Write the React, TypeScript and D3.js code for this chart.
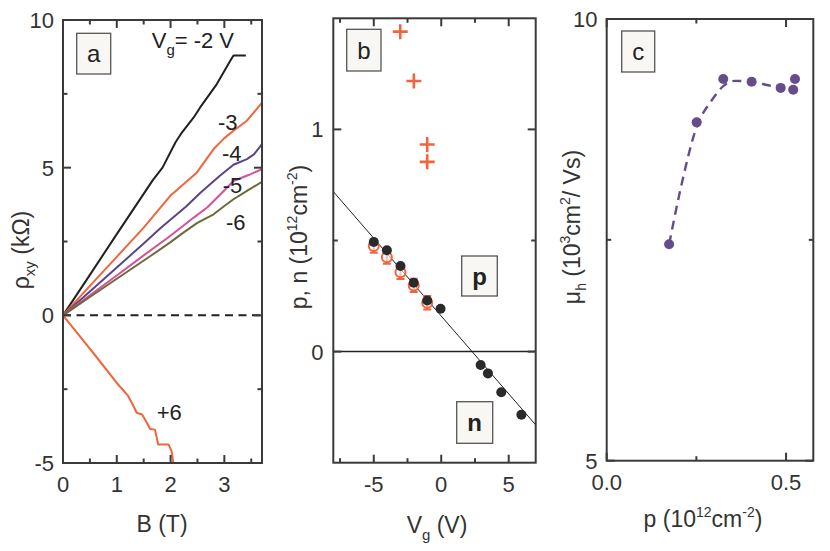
import React from 'react';
import * as d3 from 'd3';

const FONT = '"Liberation Sans", Arial, Helvetica, sans-serif';
const TXT = '#333';
const AX = '#3a3a3a';

// ---------- Panel a : rho_xy vs B ----------
const curveVgM2: [number, number][] = [[0,0],[0.5,1.37],[1.0,2.75],[1.67,4.58],[1.85,5.0],[2.09,5.85],[2.21,6.19],[2.43,6.7],[2.55,7.04],[2.86,7.83],[3.11,8.62],[3.17,8.8],[3.4,8.8]];
const curveVgM3: [number, number][] = [[0,0],[0.5,1.0],[1.0,1.98],[1.5,2.97],[1.99,4.04],[2.24,4.44],[2.49,4.84],[2.8,5.63],[3.0,6.0],[3.17,6.25],[3.42,6.59],[3.7,7.2]];
const curveVgM4: [number, number][] = [[0,0],[0.5,0.81],[1.0,1.62],[1.5,2.43],[1.81,2.95],[2.3,3.7],[2.55,4.14],[2.9,4.7],[3.17,5.1],[3.42,5.29],[3.55,5.45],[3.7,5.8]];
const curveVgM5: [number, number][] = [[0,0],[0.5,0.68],[1.0,1.35],[1.5,2.03],[1.93,2.6],[2.2,2.98],[2.43,3.31],[2.68,3.65],[2.9,4.05],[3.17,4.55],[3.45,4.75],[3.7,4.95]];
const curveVgM6: [number, number][] = [[0,0],[0.5,0.62],[1.0,1.24],[1.62,2.0],[2.0,2.48],[2.2,2.75],[2.49,3.12],[2.8,3.42],[3.0,3.7],[3.17,3.93],[3.45,4.25],[3.7,4.52]];
const curveVgP6: [number, number][] = [[0,0],[0.3,-0.68],[0.6,-1.36],[1.0,-2.29],[1.2,-2.7],[1.31,-3.07],[1.37,-3.3],[1.47,-3.36],[1.56,-3.64],[1.62,-3.85],[1.71,-3.87],[1.77,-4.37],[1.96,-4.37],[2.02,-4.6],[2.05,-5.0]];
const curveColors = ['#231f20', '#f0653b', '#5b4489', '#d6509a', '#6d6a3a', '#f0653b'];
const curveLabels = ['-3', '-4', '-5', '-6', '+6'];
const aXMajor = [0, 1, 2, 3];
const aXMinor = [0.5, 1.5, 2.5, 3.5];
const aYMajor = [-5, 0, 5, 10];
const aYMinor = [-2.5, 2.5, 7.5];

// ---------- Panel b : p, n vs Vg ----------
const blackV = [-5, -4.03, -3.02, -2.04, -1.04, -0.05, 2.92, 3.46, 4.45, 5.94];
const blackP = [0.493, 0.456, 0.385, 0.31, 0.23, 0.193, -0.06, -0.098, -0.183, -0.284];
const openV = [-5, -4.03, -3.02, -2.04, -1.04];
const openP = [0.475, 0.425, 0.357, 0.298, 0.22];
const openErr = [0.03, 0.03, 0.03, 0.03, 0.03];
const plusV = [-3.04, -2.03, -1.04, -1.04];
const plusP = [1.44, 1.218, 0.932, 0.854];
const fitLine: [number, number][] = [[-8, 0.72], [7, -0.33]];
const bXMajor = [-5, 0, 5];
const bXMinor = [-7.5, -2.5, 2.5];
const bYMajor = [0, 1];
const bYMinor = [0.5];

// ---------- Panel c : mobility vs p ----------
const cP = [0.174, 0.251, 0.325, 0.404, 0.485, 0.52, 0.525];
const cMu = [7.45, 8.83, 9.32, 9.29, 9.22, 9.2, 9.32];
const cFit: [number, number][] = [[0.174,7.45],[0.205,8.06],[0.251,8.78],[0.293,9.08],[0.325,9.24],[0.358,9.3],[0.404,9.29],[0.45,9.25],[0.488,9.216]];
const cXMajor = [0, 0.5];
const cXMinor = [0.25];
const cYMajor = [5, 10];
const cYMinor = [7.5];

type Sc = d3.ScaleLinear<number, number>;

function Frame({ xs, ys, xMaj, xMin, yMaj, yMin }: { xs: Sc; ys: Sc; xMaj: number[]; xMin: number[]; yMaj: number[]; yMin: number[] }) {
  const [x0, x1] = xs.range();
  const [y0, y1] = ys.range(); // y0 bottom, y1 top
  const ticks: JSX.Element[] = [];
  const add = (v: number, len: number, k: string) => {
    const x = xs(v);
    ticks.push(<line key={'xb' + k} x1={x} x2={x} y1={y0} y2={y0 - len} />);
    ticks.push(<line key={'xt' + k} x1={x} x2={x} y1={y1} y2={y1 + len} />);
  };
  const addY = (v: number, len: number, k: string) => {
    const y = ys(v);
    ticks.push(<line key={'yl' + k} x1={x0} x2={x0 + len} y1={y} y2={y} />);
    ticks.push(<line key={'yr' + k} x1={x1} x2={x1 - len} y1={y} y2={y} />);
  };
  xMaj.forEach((v, i) => add(v, 8, 'M' + i));
  xMin.forEach((v, i) => add(v, 4.5, 'm' + i));
  yMaj.forEach((v, i) => addY(v, 8, 'M' + i));
  yMin.forEach((v, i) => addY(v, 4.5, 'm' + i));
  return (
    <g stroke={AX} strokeWidth={2} fill="none">
      {ticks}
      <rect x={x0} y={y1} width={x1 - x0} height={y0 - y1} />
    </g>
  );
}

function Box({ x, y, w, h, label, bold }: { x: number; y: number; w: number; h: number; label: string; bold?: boolean }) {
  return (
    <g>
      <rect x={x} y={y} width={w} height={h} fill="#f8f7f4" stroke="#555" strokeWidth={1.3} />
      <text x={x + w / 2} y={y + h / 2 + 8.5} textAnchor="middle" fontSize={bold ? 24 : 24} fontWeight={bold ? 'bold' : 'normal'} fill="#222">{label}</text>
    </g>
  );
}

export default function App() {
  // scales
  const xa = d3.scaleLinear().domain([0, 3.7]).range([63, 262]);
  const ya = d3.scaleLinear().domain([-5, 10]).range([463, 20]);
  const xb = d3.scaleLinear().domain([-8, 7]).range([333.3, 535.7]);
  const yb = d3.scaleLinear().domain([-0.5, 1.5]).range([462.7, 18.3]);
  const xc = d3.scaleLinear().domain([0, 0.576]).range([606.7, 813.3]);
  const yc = d3.scaleLinear().domain([5, 10]).range([460.7, 19]);

  const lineA = d3.line<[number, number]>().x(d => xa(d[0])).y(d => ya(d[1]));
  const curvesA = [curveVgM2, curveVgM3, curveVgM4, curveVgM5, curveVgM6, curveVgP6];
  const lineB = d3.line<[number, number]>().x(d => xb(d[0])).y(d => yb(d[1]));
  const lineC = d3.line<[number, number]>().x(d => xc(d[0])).y(d => yc(d[1])).curve(d3.curveMonotoneX);

  const purple = '#654d8b';
  const orange = '#f0653b';

  return (
    <svg width={830} height={551} style={{ position: 'absolute', left: 0, top: 0, background: '#fff' }} fontFamily={FONT}>
      <defs>
        <clipPath id="clipA"><rect x={63} y={20} width={199} height={443} /></clipPath>
        <clipPath id="clipB"><rect x={333.3} y={18.3} width={202.4} height={444.4} /></clipPath>
      </defs>

      {/* ---------------- Panel a ---------------- */}
      <line x1={xa(0)} x2={xa(3.7)} y1={ya(0)} y2={ya(0)} stroke="#222" strokeWidth={2} strokeDasharray="8 5.5" />
      <g clipPath="url(#clipA)" fill="none" strokeWidth={2} strokeLinejoin="round">
        {curvesA.map((c, i) => <path key={i} d={lineA(c) || ''} stroke={curveColors[i]} />)}
      </g>
      <Frame xs={xa} ys={ya} xMaj={aXMajor} xMin={aXMinor} yMaj={aYMajor} yMin={aYMinor} />
      <g fill={TXT} fontSize={22}>
        {aXMajor.map(v => <text key={v} x={xa(v)} y={491.7} textAnchor="middle">{v}</text>)}
        {aYMajor.map(v => <text key={v} x={54} y={ya(v) + 8} textAnchor="end">{v}</text>)}
      </g>
      <text x={162} y={532} textAnchor="middle" fontSize={23} fill={TXT}>B (T)</text>
      <text transform="translate(29,250) rotate(-90)" textAnchor="middle" fontSize={23} fill={TXT}>
        ρ<tspan fontSize={15} dy={6}>xy</tspan><tspan dy={-6}> (kΩ)</tspan>
      </text>
      <Box x={76.7} y={33.3} w={34} h={40.7} label="a" />
      <text x={151.7} y={48} fontSize={22} fill="#222">
        V<tspan fontSize={15} dy={7}>g</tspan><tspan dy={-7}>= -2 V</tspan>
      </text>
      <g fontSize={22} fill="#222">
        <text x={218} y={130}>{curveLabels[0]}</text>
        <text x={222} y={161}>{curveLabels[1]}</text>
        <text x={222.7} y={193}>{curveLabels[2]}</text>
        <text x={226} y={230}>{curveLabels[3]}</text>
        <text x={156.7} y={420}>{curveLabels[4]}</text>
      </g>

      {/* ---------------- Panel b ---------------- */}
      <line x1={xb(-8)} x2={xb(7)} y1={yb(0)} y2={yb(0)} stroke="#222" strokeWidth={1.5} />
      <g clipPath="url(#clipB)">
        <path d={lineB(fitLine) || ''} stroke="#222" strokeWidth={1} fill="none" />
        {openV.map((v, i) => {
          const x = xb(v), y = yb(openP[i]);
          const yt = yb(openP[i] + openErr[i]), ybt = yb(openP[i] - openErr[i]);
          return (
            <g key={'o' + i} stroke={orange} strokeWidth={2} fill="none">
              <line x1={x} x2={x} y1={yt} y2={ybt} />
              <line x1={x - 4} x2={x + 4} y1={yt} y2={yt} />
              <line x1={x - 4} x2={x + 4} y1={ybt} y2={ybt} />
              <circle cx={x} cy={y} r={5} fill="#fff" fillOpacity={0.6} />
            </g>
          );
        })}
        {blackV.map((v, i) => <circle key={'b' + i} cx={xb(v)} cy={yb(blackP[i])} r={5} fill="#2a2a2c" />)}
        {plusV.map((v, i) => {
          const x = xb(v), y = yb(plusP[i]);
          return (
            <g key={'p' + i} stroke={orange} strokeWidth={2.6}>
              <line x1={x - 7.5} x2={x + 7.5} y1={y} y2={y} />
              <line x1={x} x2={x} y1={y - 7.5} y2={y + 7.5} />
            </g>
          );
        })}
      </g>
      <Frame xs={xb} ys={yb} xMaj={bXMajor} xMin={bXMinor} yMaj={bYMajor} yMin={bYMinor} />
      <g fill={TXT} fontSize={22}>
        {bXMajor.map(v => <text key={v} x={xb(v)} y={491.7} textAnchor="middle">{v === 0 ? '0' : v < 0 ? '-' + Math.abs(v) : String(v)}</text>)}
        {bYMajor.map(v => <text key={v} x={323.5} y={yb(v) + 8} textAnchor="end">{v}</text>)}
      </g>
      <text x={437} y={533} textAnchor="middle" fontSize={23} fill={TXT}>
        V<tspan fontSize={15} dy={7}>g</tspan><tspan dy={-7}> (V)</tspan>
      </text>
      <text transform="translate(307,237) rotate(-90)" textAnchor="middle" fontSize={23} fill={TXT}>
        p, n (10<tspan fontSize={14} dy={-10}>12</tspan><tspan dy={10}>cm</tspan><tspan fontSize={14} dy={-10}>-2</tspan><tspan dy={10}>)</tspan>
      </text>
      <Box x={346.7} y={29.3} w={34.3} h={41.7} label="b" />
      <Box x={461.7} y={256} w={35.6} h={40} label="p" bold />
      <Box x={456.7} y={401.7} w={36} h={41.6} label="n" bold />

      {/* ---------------- Panel c ---------------- */}
      <path d={lineC(cFit) || ''} fill="none" stroke={purple} strokeWidth={2.4} strokeDasharray="9 6" />
      {cP.map((p, i) => <circle key={'c' + i} cx={xc(p)} cy={yc(cMu[i])} r={5} fill={purple} />)}
      <Frame xs={xc} ys={yc} xMaj={cXMajor} xMin={cXMinor} yMaj={cYMajor} yMin={cYMinor} />
      <g fill={TXT} fontSize={22}>
        {cXMajor.map(v => <text key={v} x={xc(v)} y={490} textAnchor="middle">{v.toFixed(1)}</text>)}
        {cYMajor.map(v => <text key={v} x={597.5} y={yc(v) + 8} textAnchor="end">{v}</text>)}
      </g>
      <text x={703} y={527} textAnchor="middle" fontSize={23} fill={TXT}>
        p (10<tspan fontSize={14} dy={-10}>12</tspan><tspan dy={10}>cm</tspan><tspan fontSize={14} dy={-10}>-2</tspan><tspan dy={10}>)</tspan>
      </text>
      <text transform="translate(580,227) rotate(-90)" textAnchor="middle" fontSize={23} fill={TXT}>
        μ<tspan fontSize={14} dy={6}>h</tspan><tspan dy={-6}> (10</tspan><tspan fontSize={14} dy={-10}>3</tspan><tspan dy={10}>cm</tspan><tspan fontSize={14} dy={-10}>2</tspan><tspan dy={10}>/ Vs)</tspan>
      </text>
      <Box x={621.7} y={31} w={33} h={41} label="c" />
    </svg>
  );
}
